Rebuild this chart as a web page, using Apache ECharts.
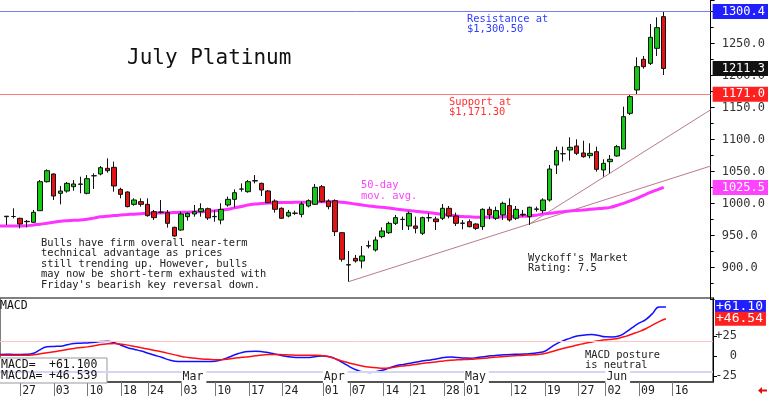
<!DOCTYPE html>
<html><head><meta charset="utf-8">
<script src="https://cdn.jsdelivr.net/npm/echarts@6/dist/echarts.min.js"></script>
<style>html,body{margin:0;padding:0;background:#fff}#c{width:768px;height:397px}</style>
</head><body><div id="c"></div>
<script>
// ---- categories (trading days, 2025), incl. blank future days ----
const dates = [
 '01-22','01-23','01-24','01-27','01-28','01-29','01-30','01-31',
 '02-03','02-04','02-05','02-06','02-07','02-10','02-11','02-12','02-13','02-14',
 '02-18','02-19','02-20','02-21','02-24','02-25','02-26','02-27','02-28',
 '03-03','03-04','03-05','03-06','03-07','03-10','03-11','03-12','03-13','03-14',
 '03-17','03-18','03-19','03-20','03-21','03-24','03-25','03-26','03-27','03-28',
 '03-31','04-01','04-02','04-03','04-04','04-07','04-08','04-09','04-10','04-11',
 '04-14','04-15','04-16','04-17','04-21','04-22','04-23','04-24','04-25',
 '04-28','04-29','04-30','05-01','05-02','05-05','05-06','05-07','05-08','05-09',
 '05-12','05-13','05-14','05-15','05-16','05-19','05-20','05-21','05-22','05-23',
 '05-27','05-28','05-29','05-30','06-02','06-03','06-04','06-05','06-06',
 '06-09','06-10','06-11','06-12','06-13',
 '06-16','06-17','06-18','06-19','06-20','06-23','06-24'
];
// ---- candles (first 100 categories) ----
const opens = [
 null,980.5,980.0,977.1,972.4,970.9,989.1,1034.4,1046.4,1016.2,
 1019.8,1026.6,1030.8,1016.2,1043.5,1046.4,1055.3,1056.8,1022.4,1018.3,
 999.0,1003.2,999.0,987.5,987.0,986.0,963.1,958.9,979.7,983.9,
 987.5,992.2,980.2,974.5,998.0,1006.8,1022.8,1018.8,1036.0,1031.8,
 1019.9,1004.2,992.8,980.8,985.3,983.4,996.4,999.0,1026.6,1004.2,
 1004.7,954.7,904.7,914.6,910.5,934.4,927.7,948.5,954.7,969.3,
 975.3,965.2,965.2,953.7,978.0,976.1,977.2,992.8,980.8,969.8,
 971.9,968.3,964.2,991.2,977.2,982.4,997.0,977.2,983.5,979.8,
 991.8,989.2,1005.8,1060.5,1078.0,1083.9,1090.2,1079.3,1075.1,1081.3,
 1052.7,1065.7,1074.6,1085.5,1141.2,1177.7,1225.6,1219.3,1242.8,1292.3
];
const closes = [
 null,979.7,980.0,968.3,971.9,986.5,1034.4,1051.6,1012.0,1019.8,
 1031.8,1030.8,1030.3,1039.1,1043.8,1056.3,1051.6,1027.7,1014.6,995.4,
 1005.8,999.0,981.3,978.2,986.5,969.3,949.5,983.9,984.9,987.5,
 992.2,977.7,979.7,991.2,1006.8,1017.2,1023.0,1034.4,1035.5,1021.4,
 1001.6,991.2,977.2,986.5,985.0,999.5,1004.7,1025.6,1003.2,995.4,
 956.3,913.1,904.2,910.5,918.3,933.9,943.3,957.4,969.3,978.2,
 975.6,985.0,961.5,978.2,978.2,971.9,992.8,980.8,969.3,969.3,
 964.1,961.5,991.2,982.4,989.2,1000.6,974.6,991.2,982.4,994.4,
 991.2,1005.8,1054.2,1082.9,1078.2,1088.1,1078.7,1073.5,1078.7,1053.7,
 1063.1,1069.4,1089.2,1136.0,1167.3,1214.1,1214.1,1260.0,1275.1,1211.3
];
const lows = [
 null,966.7,977.1,961.5,963.1,970.4,989.1,1032.9,1005.8,999.0,
 1017.2,1020.4,1016.2,1014.6,1023.0,1044.3,1048.5,1018.8,1008.4,994.3,
 996.9,995.4,979.7,974.5,984.9,962.6,948.5,957.9,973.5,979.7,
 979.7,974.5,971.9,967.8,995.4,994.3,1018.8,1017.2,1031.8,1012.0,
 1000.6,986.0,976.1,978.7,982.4,978.7,994.3,998.0,1001.6,991.2,
 949.5,909.4,878.2,907.9,899.0,930.3,925.1,945.9,952.7,966.7,
 958.9,958.9,953.7,951.1,971.9,958.9,974.5,977.2,965.2,960.0,
 963.1,958.9,959.0,975.6,974.6,974.6,972.0,974.6,979.8,966.8,
 987.6,985.0,1003.2,1046.4,1065.7,1067.3,1076.1,1071.9,1070.9,1050.1,
 1042.3,1047.5,1073.5,1085.5,1138.6,1170.9,1211.0,1216.7,1230.8,1201.1
];
const highs = [
 null,980.5,992.8,978.2,974.5,990.2,1037.0,1053.7,1047.4,1027.7,
 1033.9,1037.0,1042.2,1044.8,1047.4,1058.9,1070.9,1065.7,1025.0,1019.3,
 1008.4,1008.4,1008.4,990.2,1005.8,990.2,964.1,987.5,986.0,998.0,
 1000.6,993.8,990.2,1000.6,1011.0,1022.4,1031.8,1037.0,1044.8,1032.9,
 1021.4,1006.8,994.3,990.2,989.1,1003.2,1006.8,1030.8,1029.2,1006.8,
 1006.8,955.8,926.1,919.9,933.9,942.2,948.5,963.1,971.9,982.4,
 979.8,987.6,979.8,979.8,985.0,979.8,999.5,996.4,986.0,974.5,
 975.6,969.3,992.8,995.4,995.4,1003.2,1008.4,996.4,990.2,995.4,
 995.4,1008.4,1060.5,1089.2,1089.2,1103.7,1100.6,1098.5,1094.4,1089.2,
 1069.4,1076.1,1091.8,1151.6,1170.9,1228.7,1230.8,1280.8,1291.2,1300.4
];
// ---- 50-day moving average ----
const ma50 = [
 965.0,965.2,965.2,965.3,965.5,966.8,968.0,969.5,971.0,972.6,
 973.5,974.0,974.5,975.8,977.5,979.5,980.5,981.5,982.3,983.0,
 983.7,984.4,985.0,985.3,985.6,985.9,986.2,986.5,986.8,987.2,
 987.6,988.3,989.0,989.8,991.3,993.5,995.5,998.0,999.5,1000.3,
 1001.0,1001.6,1001.8,1002.0,1002.1,1002.2,1002.5,1002.8,1003.1,1003.2,
 1003.2,1002.3,1001.0,999.5,998.0,996.5,995.3,994.3,993.2,991.8,
 990.5,989.4,988.2,987.0,986.0,984.8,983.4,982.0,981.0,980.0,
 979.5,979.0,978.9,979.0,979.2,979.5,979.7,980.0,980.3,980.8,
 982.0,983.8,985.0,986.3,987.5,988.6,989.5,990.3,991.2,992.2,
 993.0,994.3,997.2,1000.6,1004.5,1008.4,1013.0,1017.8,1021.6,1025.5
];
// ---- MACD and its average ----
const macd = [
 2.0,2.1,2.0,2.0,2.1,3.5,8.0,11.6,12.0,12.3,
 14.0,15.7,16.0,16.4,17.2,18.0,18.5,16.6,13.5,10.4,
 8.2,6.2,3.5,0.9,-1.5,-4.5,-6.5,-6.9,-6.9,-6.9,
 -6.9,-6.9,-6.5,-4.5,-1.5,1.8,4.5,5.6,5.8,5.3,
 4.2,2.2,0.3,-1.0,-1.8,-2.0,-1.8,-0.6,0.0,-1.0,
 -4.0,-8.5,-13.5,-17.5,-20.0,-20.5,-19.5,-17.5,-14.5,-12.0,
 -10.5,-9.0,-7.5,-6.0,-4.9,-3.5,-2.0,-1.2,-1.8,-2.5,
 -2.8,-1.8,-0.8,0.2,0.9,1.5,2.0,2.2,2.5,3.0,
 4.2,6.0,11.5,16.5,20.0,23.0,25.3,26.3,26.8,25.5,
 24.0,23.8,25.0,29.5,35.5,41.0,45.5,53.0,61.3,61.1
];
const macdAvg = [
 0.9,0.9,0.9,0.9,0.9,1.5,2.8,4.2,5.3,6.5,
 8.0,9.5,10.5,11.4,12.8,14.3,15.2,15.7,14.8,13.6,
 12.0,10.3,8.7,7.0,5.2,3.3,1.4,-0.5,-1.8,-2.9,
 -3.6,-4.2,-4.7,-4.6,-3.8,-2.6,-1.6,-0.8,0.3,1.3,
 2.0,1.9,1.6,1.3,1.0,0.9,0.9,0.9,0.2,-1.2,
 -4.0,-6.5,-9.0,-11.0,-12.8,-14.0,-14.8,-15.2,-14.9,-13.5,
 -12.4,-11.5,-10.3,-9.0,-8.2,-7.2,-6.1,-5.3,-4.8,-4.4,
 -4.1,-3.4,-2.7,-2.0,-1.3,-0.6,0.0,0.5,1.0,1.4,
 1.9,3.0,5.3,7.8,10.0,12.0,14.0,16.0,17.6,19.0,
 20.2,21.0,22.3,24.5,27.5,30.5,34.0,38.5,43.0,46.539
];
// ---- tick labels ----
const tickDates = ['01-27','02-03','02-10','02-18','02-24','03-03','03-10','03-17','03-24','04-01','04-07','04-14','04-21','04-28','05-01','05-12','05-19','05-27','06-02','06-09','06-16'];
const tickTexts = ['27','03','10','18','24','03','10','17','24','01','07','14','21','28','01','12','19','27','02','09','16'];
const monthDates = ['03-03','04-01','05-01','06-02'];
const monthTexts = ['Mar','Apr','May','Jun'];
const macdTicks = [-25, 0, 25];
const macdLevels = [18, -20];
// ---- levels and trendlines ----
const resistance = 1300.4;
const support = 1171.0;
const trend1 = [['04-07', 878.2], ['06-24', 1058.9]];
const trend2 = [['05-15', 968.5], ['06-24', 1146.8]];

const MONO = '"DejaVu Sans Mono", monospace';
const last = closes.length - 1;
const candles = opens.map((o, i) => o == null ? '-' : [o, closes[i], lows[i], highs[i]]);
const tickMap = {}; tickDates.forEach((d, i) => tickMap[d] = tickTexts[i]);
const monthMap = {}; monthDates.forEach((d, i) => monthMap[d] = monthTexts[i]);
const sign = v => (v > 0 ? '+' : '') + v;

const boxLabel = {position: 'end', distance: 2, fontFamily: MONO, fontSize: 12, color: '#fff',
  padding: [2, 4, 1, 9], formatter: p => p.value.toFixed(1)};
const macdBoxLabel = {position: 'end', distance: 2, fontFamily: MONO, fontSize: 13, color: '#fff',
  padding: [1, 3, 0, 1], formatter: p => '+' + p.value.toFixed(2)};
const hidden = {color: 'rgba(0,0,0,0)', width: 1};

const chart = echarts.init(document.getElementById('c'), null, {width: 768, height: 397});
chart.setOption({
  animation: false,
  backgroundColor: '#fff',
  grid: [
    {left: -2.5, right: 55, top: 0, height: 299.7},
    {left: -2.5, right: 55, top: 298, height: 85, show: true, borderColor: '#555', borderWidth: 1.5, backgroundColor: 'rgba(0,0,0,0)'}
  ],
  xAxis: [
    {gridIndex: 0, type: 'category', data: dates, boundaryGap: false, show: false},
    {gridIndex: 1, type: 'category', data: dates, boundaryGap: false, position: 'bottom',
      axisLine: {show: true, onZero: false, lineStyle: {color: '#444', width: 1.5}},
      axisTick: {show: true, length: 14, interval: (i, v) => v in tickMap, lineStyle: {color: '#777'}},
      axisLabel: {interval: (i, v) => v in tickMap, formatter: v => tickMap[v] || '', align: 'left', margin: 3,
        padding: [0, 0, 0, 2], fontFamily: MONO, fontSize: 11.5, color: '#222'},
      splitLine: {show: false}},
    {gridIndex: 1, type: 'category', data: dates, boundaryGap: false, position: 'bottom', z: 10,
      axisLine: {show: false, onZero: false}, axisTick: {show: false}, splitLine: {show: false},
      axisLabel: {inside: true, interval: (i, v) => v in monthMap, formatter: v => monthMap[v] || '', align: 'left',
        margin: -1, padding: [1, 3, 0, 1], backgroundColor: '#fff', fontFamily: MONO, fontSize: 11.5, color: '#222'}}
  ],
  yAxis: [
    {gridIndex: 0, type: 'value', position: 'right', min: 850, max: 1318.3, interval: 50,
      axisLine: {show: true, onZero: false, lineStyle: {color: '#000'}},
      axisTick: {show: true, length: 4, lineStyle: {color: '#000'}},
      minorTick: {show: true, splitNumber: 2, length: 3, lineStyle: {color: '#000'}},
      splitLine: {show: false},
      axisLabel: {margin: 11, fontFamily: MONO, fontSize: 12, color: '#333', showMaxLabel: false, showMinLabel: false,
        formatter: v => (v % 50 === 0 && v > 850 && v < 1300) ? v.toFixed(1) : ''}},
    {gridIndex: 1, type: 'value', position: 'right', min: -32.5, max: 72.5,
      axisLine: {show: true, onZero: false, lineStyle: {color: '#000'}},
      axisTick: {show: true, length: 4, customValues: macdTicks, lineStyle: {color: '#000'}},
      splitLine: {show: false},
      axisLabel: {customValues: macdTicks, align: 'right', margin: 24, fontFamily: MONO, fontSize: 12, color: '#333',
        formatter: v => sign(v)}}
  ],
  series: [
    {type: 'line', name: 'trend1', xAxisIndex: 0, yAxisIndex: 0, data: trend1, symbol: 'none', z: 1,
      lineStyle: {color: '#b97a90', width: 1}},
    {type: 'line', name: 'trend2', xAxisIndex: 0, yAxisIndex: 0, data: trend2, symbol: 'none', z: 1,
      lineStyle: {color: '#b97a90', width: 1}},
    {type: 'line', name: '50-day', xAxisIndex: 0, yAxisIndex: 0, data: ma50, symbol: 'none', smooth: true, z: 1,
      lineStyle: {color: '#ff33ff', width: 3},
      markLine: {silent: true, symbol: ['none', 'none'], label: boxLabel,
        data: [{yAxis: ma50[last], lineStyle: hidden, label: {backgroundColor: '#ff44ff'}}]}},
    {type: 'candlestick', name: 'July Platinum', xAxisIndex: 0, yAxisIndex: 0, data: candles, barWidth: 5, z: 3,
      itemStyle: {color: '#14c814', color0: '#e01414', borderColor: '#111', borderColor0: '#111', borderWidth: 1},
      markLine: {silent: true, symbol: ['none', 'none'], label: boxLabel,
        data: [
          {yAxis: resistance, lineStyle: {color: '#7b7bff', width: 1, type: 'solid'}, label: {backgroundColor: '#2020ff'}},
          {yAxis: support, lineStyle: {color: '#ff7b7b', width: 1, type: 'solid'}, label: {backgroundColor: '#ff2020'}},
          {yAxis: closes[last], lineStyle: hidden, label: {backgroundColor: '#111'}}
        ]}},
    {type: 'line', name: 'MACD', xAxisIndex: 1, yAxisIndex: 1, data: macd, symbol: 'none', smooth: true, z: 3,
      lineStyle: {color: '#1010ff', width: 1.5},
      markLine: {silent: true, symbol: ['none', 'none'], label: macdBoxLabel,
        data: [
          {yAxis: macdLevels[0], lineStyle: {color: '#ffc4c4', width: 1, type: 'solid'}, label: {show: false}},
          {yAxis: macdLevels[1], lineStyle: {color: '#d4d4f6', width: 2, type: 'solid'}, label: {show: false}},
          {yAxis: macd[last], lineStyle: hidden, label: {backgroundColor: '#2020ff'}}
        ]}},
    {type: 'line', name: 'MACDA', xAxisIndex: 1, yAxisIndex: 1, data: macdAvg, symbol: 'none', smooth: true, z: 3,
      lineStyle: {color: '#ff1010', width: 1.5},
      markLine: {silent: true, symbol: ['none', 'none'], label: macdBoxLabel,
        data: [{yAxis: macdAvg[last], lineStyle: hidden, label: {backgroundColor: '#ff2020'}}]}}
  ],
  graphic: [
    {type: 'text', x: 127, y: 48, style: {text: 'July Platinum', font: '21px ' + MONO, fill: '#111'}},
    {type: 'text', x: 467, y: 14, style: {text: 'Resistance at\n$1,300.50', font: '10.4px ' + MONO, fill: '#2a3cff', lineHeight: 10}},
    {type: 'text', x: 449, y: 97, style: {text: 'Support at\n$1,171.30', font: '10.4px ' + MONO, fill: '#ff3030', lineHeight: 10}},
    {type: 'text', x: 361, y: 180.5, style: {text: '50-day\nmov. avg.', font: '10.4px ' + MONO, fill: '#ff40ff', lineHeight: 10.5}},
    {type: 'text', x: 41, y: 238, style: {text: "Bulls have firm overall near-term\ntechnical advantage as prices\nstill trending up. However, bulls\nmay now be short-term exhausted with\nFriday's bearish key reversal down.", font: '10.4px ' + MONO, fill: '#222', lineHeight: 10.5}},
    {type: 'text', x: 528, y: 253, style: {text: "Wyckoff's Market\nRating: 7.5", font: '10.4px ' + MONO, fill: '#222', lineHeight: 10}},
    {type: 'text', x: 585, y: 350, style: {text: 'MACD posture\nis neutral', font: '10.4px ' + MONO, fill: '#222', lineHeight: 10}},
    {type: 'text', x: 0, y: 300.5, style: {text: 'MACD', font: '11.5px ' + MONO, fill: '#111'}},
    {type: 'rect', z: 5, shape: {x: -1, y: 358, width: 108, height: 25}, style: {fill: '#fff', stroke: '#999', lineWidth: 1}},
    {type: 'text', z: 6, x: 1, y: 359, style: {text: 'MACD=\nMACDA=', font: '11.5px ' + MONO, fill: '#111', lineHeight: 11.5}},
    {type: 'text', z: 6, x: 49, y: 359, style: {text: sign(macd[last].toFixed(3)) + '\n' + sign(macdAvg[last].toFixed(3)), font: '11.5px ' + MONO, fill: '#111', lineHeight: 11.5}},
    {type: 'polygon', z: 6, shape: {points: [[758, 390.5], [762, 387], [762, 389.5], [767, 389.5], [767, 391.5], [762, 391.5], [762, 394]]}, style: {fill: '#e01010'}}
  ]
});
</script>
</body></html>
